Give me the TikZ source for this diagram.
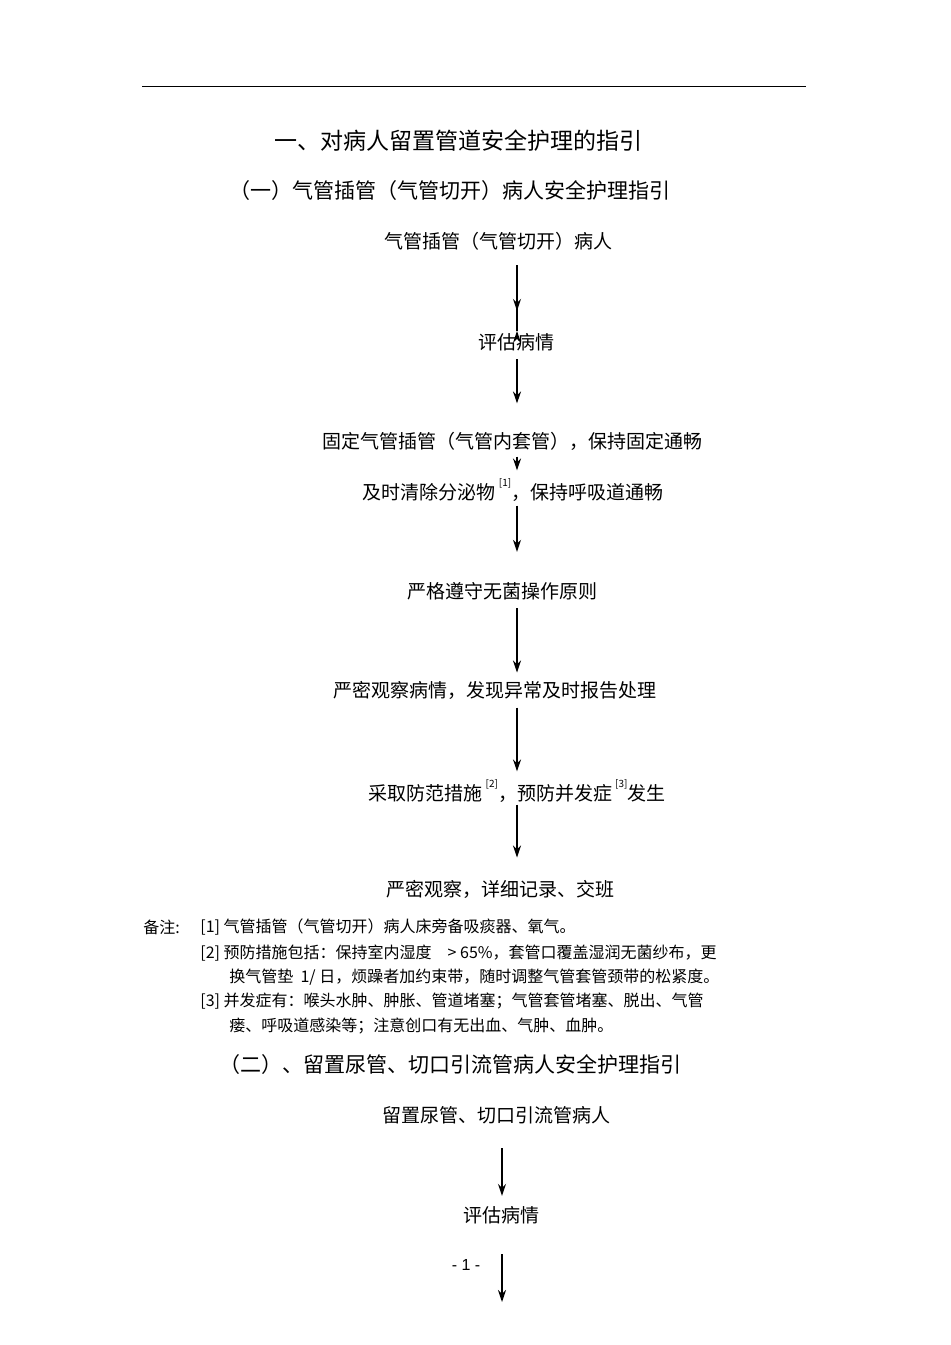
\documentclass[tikz,border=0pt]{standalone}
\usepackage{fontspec}
\setmainfont{Liberation Sans}
\newfontfamily\cjk{Noto Sans CJK SC}
\usetikzlibrary{arrows.meta}
\begin{document}
\begin{tikzpicture}[x=0.5pt,y=-0.5pt,
  txt/.style={font=\cjk\fontsize{9.5}{11}\selectfont,inner sep=1pt},
  ttl/.style={font=\cjk\fontsize{11.5}{13}\selectfont,inner sep=1pt},
  ttl2/.style={font=\cjk\fontsize{10.5}{12}\selectfont,inner sep=1pt},
  note/.style={font=\cjk\fontsize{8}{9}\selectfont,inner sep=0pt,anchor=west},
  arr/.style={draw,line width=0.7pt,-{Stealth[length=6pt,width=4pt]}}]
\useasboundingbox (0,0) rectangle (950,1345);
\draw[line width=0.5pt] (142,86) -- (806,86);
\node[ttl] (t1) at (458,141) {一、对病人留置管道安全护理的指引};
\node[ttl2] (t2) at (450,191) {（一）气管插管（气管切开）病人安全护理指引};
\node[txt] (a) at (498,241) {气管插管（气管切开）病人};
\node[txt] (b) at (516,342) {评估病情};
\node[txt] (c) at (512,441) {固定气管插管（气管内套管），保持固定通畅};
\node[txt] (d) at (513,490) {及时清除分泌物\,\raisebox{1.2ex}{\tiny [1]}，保持呼吸道通畅};
\node[txt] (e) at (502,591) {严格遵守无菌操作原则};
\node[txt] (f) at (495,690) {严密观察病情，发现异常及时报告处理};
\node[txt] (g) at (517,791) {采取防范措施\,\raisebox{1.2ex}{\tiny [2]}，预防并发症\,\raisebox{1.2ex}{\tiny [3]}发生};
\node[txt] (h) at (500,889) {严密观察，详细记录、交班};
\coordinate (X) at (517,0);
\draw[arr] (a.south -| X) ++(0,13) -- (b.north -| X) ++(0,-0) ;
\draw[arr] ([yshift=-13]a.south -| X) -- ([yshift=10]b.north -| X);
\draw[arr] ([yshift=-3]b.south -| X) -- ([yshift=13]c.north -| X);
\draw[arr] ([yshift=-2]c.south -| X) -- ([yshift=3]d.north -| X);
\draw[arr] ([yshift=-1]d.south -| X) -- ([yshift=14]e.north -| X);
\draw[arr] ([yshift=-3]e.south -| X) -- ([yshift=3]f.north -| X);
\draw[arr] ([yshift=-3]f.south -| X) -- ([yshift=3]g.north -| X);
\draw[arr] ([yshift=0]g.south -| X) -- ([yshift=10]h.north -| X);
\node[note] (n0) at (143,927) {备注:};
\node[note] (n1) at (200,927) {[1] 气管插管（气管切开）病人床旁备吸痰器、氧气。};
\node[note] (n2) at (200,953) {[2] 预防措施包括：保持室内湿度\quad \textgreater\ 65\%，套管口覆盖湿润无菌纱布，更};
\node[note] (n3) at (229,977) {换气管垫\ \ 1/ 日，烦躁者加约束带，随时调整气管套管颈带的松紧度。};
\node[note] (n4) at (200,1001) {[3] 并发症有：喉头水肿、肿胀、管道堵塞；气管套管堵塞、脱出、气管};
\node[note] (n5) at (229,1026) {瘘、呼吸道感染等；注意创口有无出血、气肿、血肿。};
\node[ttl2] (t3) at (450,1065) {（二）、留置尿管、切口引流管病人安全护理指引};
\node[txt] (i) at (496,1115) {留置尿管、切口引流管病人};
\node[txt] (j) at (501,1215) {评估病情};
\node[font=\fontsize{8}{9}\selectfont] (pg) at (466,1265) {- 1 -};
\coordinate (Y) at (502,0);
\coordinate (end) at (502,1302);
\draw[arr] ([yshift=-11]i.south -| Y) -- ([yshift=4]j.north -| Y);
\draw[arr] ([yshift=-14]j.south -| Y) -- (end);
\end{tikzpicture}
\end{document}
